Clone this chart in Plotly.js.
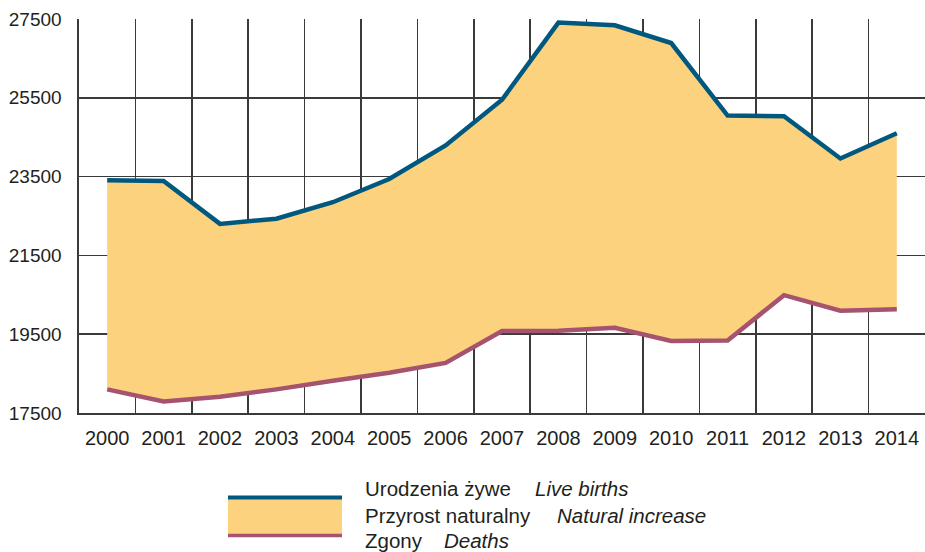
<!DOCTYPE html>
<html>
<head>
<meta charset="utf-8">
<script src="https://cdn.plot.ly/plotly-3.0.1.min.js"></script>
<style>
  html, body { margin: 0; padding: 0; background: #fff; }
  #chart { width: 925px; height: 552px; }
</style>
</head>
<body>
<div id="chart"></div>
<script>
// years and values
const years = ["2000", "2001", "2002", "2003", "2004", "2005", "2006", "2007",
  "2008", "2009", "2010", "2011", "2012", "2013", "2014"];
const liveBirths = [23410, 23390, 22300, 22430, 22850, 23440, 24290, 25450,
  27410, 27340, 26890, 25050, 25030, 23960, 24600];
const deaths = [18100, 17790, 17910, 18100, 18320, 18520, 18770, 19580,
  19590, 19665, 19330, 19340, 20490, 20095, 20135];
const yTicks = [17500, 19500, 21500, 23500, 25500, 27500];

const BLUE = "#00587f";
const PINK = "#a5536f";
const FILL = "#fdd27e";
const GRID = "#3a3a3a";
const FONT = "Liberation Sans, Arial, sans-serif";

// plot box in pixels, used to place the legend in paper coords
const L = 79, T = 19, W = 846, H = 394;
const px = (x) => (x - L) / W;
const py = (y) => (T + H - y) / H;

const baseTrace = {
  x: years,
  y: deaths,
  type: "scatter",
  mode: "lines",
  line: { width: 0, color: PINK },
  hoverinfo: "skip",
  showlegend: false,
};

const birthsTrace = {
  x: years,
  y: liveBirths,
  type: "scatter",
  mode: "lines",
  fill: "tonexty",
  fillcolor: FILL,
  line: { width: 4.5, color: BLUE },
  hoverinfo: "skip",
  showlegend: false,
};

const deathsTrace = {
  x: years,
  y: deaths,
  type: "scatter",
  mode: "lines",
  line: { width: 4.5, color: PINK },
  hoverinfo: "skip",
  showlegend: false,
};

// legend drawn by hand: one box with a blue top edge and pink bottom edge
const shapes = [
  { type: "rect", xref: "paper", yref: "paper",
    x0: px(228), x1: px(342), y0: py(534), y1: py(499),
    fillcolor: FILL, line: { width: 0 } },
  { type: "line", xref: "paper", yref: "paper",
    x0: px(228), x1: px(342), y0: py(497.5), y1: py(497.5),
    line: { color: BLUE, width: 4 } },
  { type: "line", xref: "paper", yref: "paper",
    x0: px(228), x1: px(342), y0: py(535.5), y1: py(535.5),
    line: { color: PINK, width: 3.5 } },
];

const legendRows = [
  ["Urodzenia żywe", "Live births", 489, 532.7],
  ["Przyrost naturalny", "Natural increase", 515, 555],
  ["Zgony", "Deaths", 540, 441.7],
];
const annotations = [];
legendRows.forEach(([pl, en, y, xEn]) => {
  annotations.push({
    xref: "paper", yref: "paper", x: px(362.7), y: py(y),
    xanchor: "left", yanchor: "middle", showarrow: false,
    text: pl, font: { family: FONT, size: 20.5, color: "#231f20" },
  });
  annotations.push({
    xref: "paper", yref: "paper", x: px(xEn), y: py(y),
    xanchor: "left", yanchor: "middle", showarrow: false,
    text: "<i>" + en + "</i>", font: { family: FONT, size: 20.5, color: "#231f20" },
  });
});

const layout = {
  width: 925,
  height: 552,
  margin: { l: L, r: 0, t: T, b: 552 - T - H },
  paper_bgcolor: "#ffffff",
  plot_bgcolor: "#ffffff",
  showlegend: false,
  xaxis: {
    type: "category",
    range: [-0.5, 14.5],
    tickson: "boundaries",
    ticks: "",
    showgrid: true,
    gridcolor: GRID,
    gridwidth: 1.6,
    showline: true,
    linecolor: GRID,
    linewidth: 1.6,
    ticklabelstandoff: 6,
    tickfont: { family: FONT, size: 20, color: "#231f20" },
    fixedrange: true,
  },
  yaxis: {
    range: [17500, 27500],
    tickvals: yTicks,
    ticktext: yTicks.map(String),
    ticks: "",
    showgrid: true,
    gridcolor: GRID,
    gridwidth: 1.6,
    zeroline: false,
    showline: true,
    linecolor: GRID,
    linewidth: 1.6,
    ticklabelstandoff: 12,
    tickfont: { family: FONT, size: 19, color: "#231f20" },
    fixedrange: true,
  },
  shapes: shapes,
  annotations: annotations,
};

Plotly.newPlot("chart", [baseTrace, birthsTrace, deathsTrace], layout, {
  displayModeBar: false,
  staticPlot: true,
});
</script>
</body>
</html>
